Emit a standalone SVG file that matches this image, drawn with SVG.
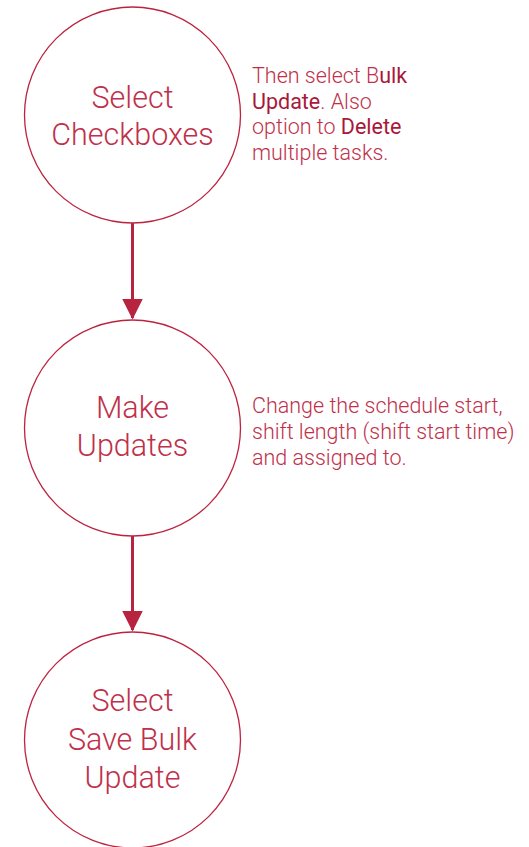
<svg xmlns="http://www.w3.org/2000/svg" width="529" height="847" viewBox="0 0 529 847">
<style>
.node circle{fill:#fff;stroke:#bd2340;stroke-width:1.3}
.lbl{font-family:Roboto,"Liberation Sans",sans-serif;font-weight:300;font-size:30.5px;fill:#c0304a;text-anchor:middle}
.note{font-family:Roboto,"Liberation Sans",sans-serif;font-weight:300;font-size:21.5px;fill:#c0304a}
.b{font-weight:400;fill:#a8183a}
.edge{stroke:#b8233f;stroke-width:3;fill:none}
</style>
<defs>
<marker id="ah" markerWidth="7" markerHeight="7" refX="6.5" refY="3.5" orient="auto" markerUnits="strokeWidth">
<path d="M0,0 L7,3.5 L0,7 Z" fill="#b8233f"/>
</marker>
</defs>
<rect width="529" height="847" fill="#fff"/>
<g id="connectors">
<line class="edge" x1="132.5" y1="222" x2="132.5" y2="318" marker-end="url(#ah)"/>
<line class="edge" x1="132.5" y1="536" x2="132.5" y2="630" marker-end="url(#ah)"/>
</g>
<g id="node1" class="node">
<circle cx="132.5" cy="115" r="108"/>
<text class="lbl" x="132.5" y="108">Select</text>
<text class="lbl" x="132.5" y="145">Checkboxes</text>
</g>
<g id="node2" class="node">
<circle cx="132.5" cy="428" r="108"/>
<text class="lbl" x="132.5" y="418">Make</text>
<text class="lbl" x="132.5" y="456">Updates</text>
</g>
<g id="node3" class="node">
<circle cx="132.5" cy="740" r="108"/>
<text class="lbl" x="132.5" y="711">Select</text>
<text class="lbl" x="132.5" y="750">Save Bulk</text>
<text class="lbl" x="132.5" y="788">Update</text>
</g>
<g id="note1">
<text class="note" x="252" y="83">Then select B<tspan class="b">ulk</tspan></text>
<text class="note" x="252" y="109"><tspan class="b">Update</tspan>. Also</text>
<text class="note" x="252" y="134">option to <tspan class="b">Delete</tspan></text>
<text class="note" x="252" y="160">multiple tasks.</text>
</g>
<g id="note2">
<text class="note" x="252" y="413">Change the schedule start,</text>
<text class="note" x="252" y="439">shift length (shift start time)</text>
<text class="note" x="252" y="465">and assigned to.</text>
</g>
</svg>
